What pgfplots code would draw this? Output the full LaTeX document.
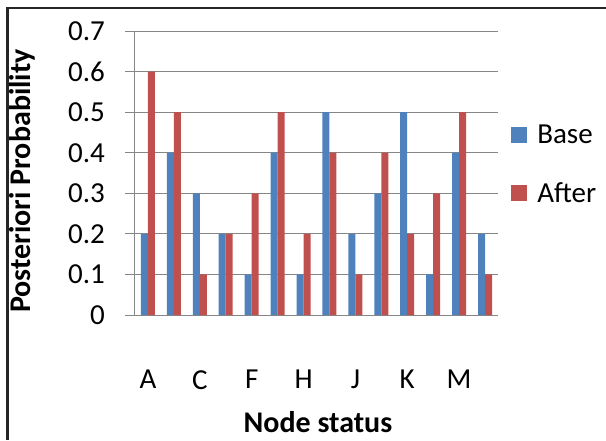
\documentclass[border=0pt]{standalone}
\usepackage{fontspec}
\setmainfont{Carlito}
\usepackage{pgfplots}
\pgfplotsset{compat=1.18}
\definecolor{xlblue}{HTML}{4F81BD}
\definecolor{xlred}{HTML}{C0504D}
\definecolor{xlgrid}{HTML}{868686}

\begin{document}
\begin{tikzpicture}[x=1pt,y=1pt]
\begin{axis}[
    at={(135pt,125pt)}, anchor=south west,
    scale only axis, width=363pt, height=284pt,
    ybar=0pt, bar width=7pt,
    xmin=0.5, xmax=14.5, ymin=0, ymax=0.7,
    axis lines=left, axis line style={-, xlgrid, line width=1pt},
    ymajorgrids, grid style={xlgrid, line width=1pt},
    ytick={0,0.1,0.2,0.3,0.4,0.5,0.6,0.7},
    yticklabels={0,0.1,0.2,0.3,0.4,0.5,0.6,0.7},
    xtick={1,3,5,7,9,11,13},
    xticklabels={A,C,F,H,J,K,M},
    tick align=outside, major tick length=10pt,
    ytick style={xlgrid, line width=1pt},
    xtick style={draw=none},
    /pgf/number format/assume math mode=true,
    tick label style={font=\fontsize{29}{34}\selectfont},
    yticklabel style={anchor=east, inner sep=0pt, xshift=-20pt},
    xticklabel style={anchor=north, inner sep=0pt, yshift=-45pt},
    every axis y label/.style={at={(axis description cs:-0.311,0.472)}, rotate=90, anchor=center},
    every axis x label/.style={at={(axis description cs:0.504,-0.415)}, anchor=base},
    label style={font=\fontsize{30}{36}\selectfont\bfseries},
    ylabel={Posteriori Probability},
    xlabel={Node status},
    every axis plot post/.append style={legend image code/.code={%
      \fill[##1] (0pt,-8pt) rectangle (16pt,8pt); \path (24pt,0pt);}},
    legend style={at={(axis description cs:1.036,0.531)}, anchor=west, draw=none, fill=none,
      inner sep=0pt, row sep=34pt, font=\fontsize{29}{34}\selectfont,
      nodes={inner sep=2pt}},
    legend cell align=left,
]
\addplot[fill=xlblue, draw=none] coordinates {
  (1,0.2) (2,0.4) (3,0.3) (4,0.2) (5,0.1) (6,0.4) (7,0.1)
  (8,0.5) (9,0.2) (10,0.3) (11,0.5) (12,0.1) (13,0.4) (14,0.2)};
\addplot[fill=xlred, draw=none] coordinates {
  (1,0.6) (2,0.5) (3,0.1) (4,0.2) (5,0.3) (6,0.5) (7,0.2)
  (8,0.4) (9,0.1) (10,0.4) (11,0.2) (12,0.3) (13,0.5) (14,0.1)};
\legend{Base, After}
\end{axis}
\draw[line width=2.5pt, black!85] (7.5pt,0pt) -- (7.5pt,432pt) -- (606pt,432pt);
\pgfresetboundingbox
\path[use as bounding box] (0pt,0pt) rectangle (606pt,440pt);
\end{tikzpicture}
\end{document}
